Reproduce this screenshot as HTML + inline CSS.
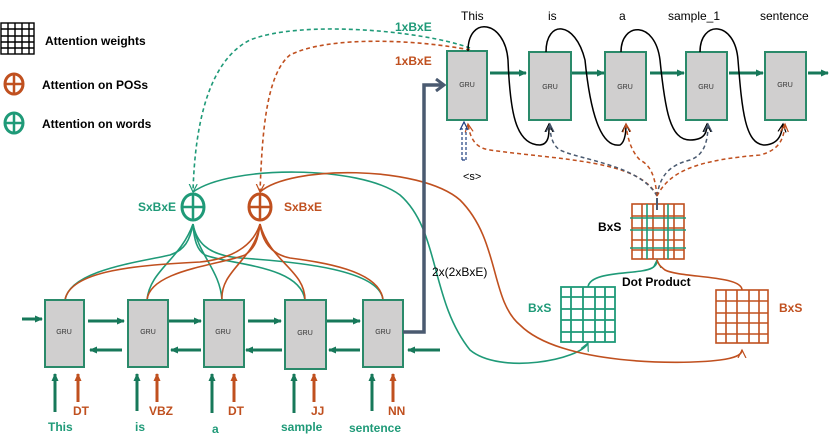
<!DOCTYPE html>
<html><head><meta charset="utf-8"><style>
body{margin:0;background:#fff;}
svg{display:block;font-family:"Liberation Sans",sans-serif;}
.g{fill:#d0cfcf;stroke:#2a8a6a;stroke-width:2}
.gt{font-size:7px;fill:#333;text-anchor:middle}
.gn{stroke:#1f9a78;fill:none;stroke-width:1.6}
.or{stroke:#c0501f;fill:none;stroke-width:1.6}
.bk{stroke:#000;fill:none;stroke-width:1.5}
</style></head><body>
<svg width="830" height="444" viewBox="0 0 830 444">
<defs>
<marker id="ag" markerUnits="userSpaceOnUse" markerWidth="8" markerHeight="8" refX="7" refY="4" orient="auto"><path d="M0,0.5L8,4L0,7.5z" fill="#17785a"/></marker>
<marker id="ao" markerUnits="userSpaceOnUse" markerWidth="8" markerHeight="8" refX="7" refY="4" orient="auto"><path d="M0,0.5L8,4L0,7.5z" fill="#c0501f"/></marker>
<marker id="vo" markerUnits="userSpaceOnUse" markerWidth="10" markerHeight="10" refX="8" refY="5" orient="auto"><path d="M0,1L8,5L0,9" fill="none" stroke="#c0501f" stroke-width="1.2"/></marker>
<marker id="vg" markerUnits="userSpaceOnUse" markerWidth="10" markerHeight="10" refX="8" refY="5" orient="auto"><path d="M0,1L8,5L0,9" fill="none" stroke="#1f9a78" stroke-width="1.2"/></marker>
<marker id="vk" markerUnits="userSpaceOnUse" markerWidth="10" markerHeight="10" refX="8" refY="5" orient="auto"><path d="M0,1L8,5L0,9" fill="none" stroke="#000" stroke-width="1.2"/></marker>
<marker id="vb" markerUnits="userSpaceOnUse" markerWidth="10" markerHeight="10" refX="8" refY="5" orient="auto"><path d="M0,1L8,5L0,9" fill="none" stroke="#4a5a70" stroke-width="1.2"/></marker>
<marker id="as" markerUnits="userSpaceOnUse" markerWidth="12" markerHeight="14" refX="9" refY="7" orient="auto"><path d="M1,1L9,7L1,13" fill="none" stroke="#4a5a70" stroke-width="3"/></marker>
</defs>

<g stroke="#000" stroke-width="1.4" fill="none">
<rect x="1" y="23" width="33" height="31"/>
<path d="M8,23V54M15,23V54M22,23V54M29,23V54M1,29H34M1,36H34M1,42H34M1,48H34"/>
</g>
<g font-size="12" font-weight="bold">
<text x="45" y="45">Attention weights</text>
<text x="42" y="89">Attention on POSs</text>
<text x="42" y="128">Attention on words</text>
</g>
<ellipse cx="14" cy="84" rx="9" ry="10" fill="none" stroke="#c0501f" stroke-width="3"/>
<path d="M5,84H23M14,74V94" stroke="#c0501f" stroke-width="2.5"/>
<ellipse cx="14" cy="123" rx="9" ry="10" fill="none" stroke="#1f9a78" stroke-width="3"/>
<path d="M5,123H23M14,113V133" stroke="#1f9a78" stroke-width="2.5"/>

<path d="M470,48 C420,30 300,20 250,40 C210,60 195,120 193,192" class="gn" stroke-dasharray="4,3" marker-end="url(#vg)"/>
<path d="M470,50 C420,40 330,35 290,55 C265,75 262,140 260,192" class="or" stroke-dasharray="4,3" marker-end="url(#vo)"/>
<text x="395" y="31" font-size="12" font-weight="bold" fill="#1f9a78">1xBxE</text>
<text x="395" y="65" font-size="12" font-weight="bold" fill="#c0501f">1xBxE</text>

<ellipse cx="193" cy="207" rx="11" ry="13" fill="#fff" stroke="#1f9a78" stroke-width="3"/>
<path d="M182,207H204M193,194V220" stroke="#1f9a78" stroke-width="2.5"/>
<ellipse cx="260" cy="207" rx="11" ry="13" fill="#fff" stroke="#c0501f" stroke-width="3"/>
<path d="M249,207H271M260,194V220" stroke="#c0501f" stroke-width="2.5"/>
<text x="138" y="211" font-size="12" font-weight="bold" fill="#1f9a78">SxBxE</text>
<text x="284" y="211" font-size="12" font-weight="bold" fill="#c0501f">SxBxE</text>

<g class="gn">
<path d="M65,300 C70,270 140,262 170,255 C185,250 190,240 193,224"/>
<path d="M147,300 C150,270 180,260 193,224"/>
<path d="M222,300 C220,270 198,255 193,224"/>
<path d="M305,300 C300,265 230,265 205,255 C197,250 194,240 193,224"/>
<path d="M383,300 C380,270 300,262 240,258 C205,255 196,240 193,224"/>
</g>
<g class="or">
<path d="M65,300 C70,270 140,265 200,262 C240,258 255,240 260,224"/>
<path d="M147,300 C150,270 220,265 245,255 C255,248 258,240 260,224"/>
<path d="M222,300 C220,270 255,260 260,224"/>
<path d="M305,300 C305,270 270,262 260,224"/>
<path d="M383,300 C380,270 320,262 290,258 C270,254 262,240 260,224"/>
</g>
<path d="M193,223l-4,3M193,223l4,3M260,223l-4,3M260,223l4,3" stroke="#888" stroke-width="0"/>

<path d="M193,192 C230,165 360,165 400,195 C440,230 430,300 470,350 C500,375 580,360 588,343" class="gn" marker-end="url(#vg)"/>
<path d="M260,192 C290,165 420,165 460,200 C500,240 490,300 520,325 C560,365 680,365 720,360 C735,358 742,355 742,350" class="or" marker-end="url(#vo)"/>

<rect class="g" x="45" y="300" width="39" height="67"/>
<rect class="g" x="128" y="300" width="40" height="67"/>
<rect class="g" x="204" y="300" width="40" height="67"/>
<rect class="g" x="285" y="300" width="41" height="69"/>
<rect class="g" x="363" y="300" width="40" height="67"/>
<text class="gt" x="64" y="334">GRU</text><text class="gt" x="148" y="334">GRU</text><text class="gt" x="223" y="334">GRU</text><text class="gt" x="305" y="335">GRU</text><text class="gt" x="383" y="334">GRU</text>
<g stroke="#17785a" stroke-width="3" marker-end="url(#ag)">
<path d="M22,319H42"/><path d="M88,321H124"/><path d="M169,321H201"/><path d="M248,321H281"/><path d="M327,321H360"/>
<path d="M122,350H90"/><path d="M201,350H171"/><path d="M282,350H246"/><path d="M360,350H329"/><path d="M440,350H408"/>
<path d="M55,412V374"/><path d="M137,411V374"/><path d="M212,413V374"/><path d="M294,413V374"/><path d="M372,411V374"/>
</g>
<g stroke="#c0501f" stroke-width="3" marker-end="url(#ao)">
<path d="M78,402V374"/><path d="M157,402V374"/><path d="M234,402V374"/><path d="M314,402V374"/><path d="M393,402V374"/>
</g>
<g font-size="12" font-weight="bold" fill="#c0501f">
<text x="73" y="415">DT</text><text x="149" y="415">VBZ</text><text x="228" y="415">DT</text><text x="311" y="415">JJ</text><text x="388" y="415">NN</text>
</g>
<g font-size="12" font-weight="bold" fill="#1f9a78">
<text x="48" y="431">This</text><text x="135" y="431">is</text><text x="212" y="433">a</text><text x="281" y="431">sample</text><text x="349" y="432">sentence</text>
</g>

<path d="M403,332H424V85H444" stroke="#4a5a70" stroke-width="3.5" fill="none" marker-end="url(#as)"/>
<text x="432" y="276" font-size="12">2x(2xBxE)</text>

<rect class="g" x="447" y="51" width="40" height="69"/>
<rect class="g" x="529" y="52" width="42" height="68"/>
<rect class="g" x="605" y="52" width="41" height="68"/>
<rect class="g" x="686" y="52" width="41" height="68"/>
<rect class="g" x="765" y="52" width="41" height="68"/>
<text class="gt" x="467" y="87">GRU</text><text class="gt" x="550" y="89">GRU</text><text class="gt" x="625" y="89">GRU</text><text class="gt" x="706" y="89">GRU</text><text class="gt" x="785" y="87">GRU</text>
<g stroke="#17785a" stroke-width="3" marker-end="url(#ag)">
<path d="M490,73H526"/><path d="M572,73H604"/><path d="M650,73H684"/><path d="M729,73H763"/><path d="M808,73H828"/>
</g>
<g font-size="12">
<text x="461" y="20">This</text><text x="548" y="20">is</text><text x="619" y="20">a</text><text x="668" y="20">sample_1</text><text x="760" y="20">sentence</text>
</g>
<g class="bk" marker-end="url(#vk)">
<path d="M468,51 C468,15 505,20 508,60 C510,110 515,145 540,145 C550,144 549,132 549,124"/>
<path d="M546,52 C546,20 575,20 585,60 C590,110 600,148 620,145 C625,142 626,132 626,124"/>
<path d="M621,52 C621,22 655,20 660,60 C665,110 670,140 690,140 C705,140 707,132 707,124"/>
<path d="M700,52 C700,20 735,20 738,60 C742,110 745,145 765,145 C780,144 782,132 783,124"/>
</g>
<g stroke-dasharray="4,3" stroke-width="1.5" fill="none">
<path d="M657,196 C640,160 560,160 490,150 C475,148 470,138 468,124" stroke="#c0501f" marker-end="url(#vo)"/>
<path d="M657,196 C640,165 580,160 560,150 C552,145 550,135 550,124" stroke="#4a5a70" marker-end="url(#vb)"/>
<path d="M657,196 C655,175 650,165 640,160 C630,150 627,135 626,124" stroke="#c0501f" marker-end="url(#vo)"/>
<path d="M657,196 C660,175 670,165 690,160 C705,155 708,140 708,124" stroke="#4a5a70" marker-end="url(#vb)"/>
<path d="M657,196 C670,170 700,160 760,155 C780,150 784,138 785,124" stroke="#c0501f" marker-end="url(#vo)"/>
</g>
<path d="M462,160V128M466,160V128M462,160H466" stroke="#1f3f80" stroke-width="1.2" stroke-dasharray="3,2" fill="none"/>
<path d="M460,130L464,122L468,130" stroke="#1f3f80" fill="none" stroke-width="1.2"/>
<text x="463" y="180" font-size="11">&lt;s&gt;</text>

<g stroke="#c0501f" stroke-width="1.6" fill="none">
<rect x="632" y="204" width="52" height="55"/>
<path d="M642,204V259M653,204V259M664,204V259M674,204V259M632,216H684M632,228H684M632,240H684M632,250H684"/>
</g>
<g stroke="#1f9a78" stroke-width="1.6" fill="none">
<path d="M647,204V259M668,204V259M630,218H686M630,230H686M630,248H686"/>
</g>
<path d="M657,198V210" stroke="#4a5a70" stroke-width="2"/>
<g stroke="#1f9a78" stroke-width="1.8" fill="none">
<rect x="561" y="287" width="54" height="55"/>
<path d="M571,287V342M583,287V342M595,287V342M605,287V342M561,297H615M561,309H615M561,320H615M561,332H615"/>
</g>
<g stroke="#c0501f" stroke-width="1.6" fill="none">
<rect x="716" y="290" width="52" height="53"/>
<path d="M726,290V343M737,290V343M749,290V343M759,290V343M716,301H768M716,313H768M716,323H768M716,334H768"/>
</g>
<path d="M588,287 C590,270 640,275 652,268 C657,265 657,262 657,260" class="gn" marker-end="url(#vg)"/>
<path d="M742,290 C742,275 680,278 665,270 C660,266 658,264 657,260" class="or"/>
<text x="598" y="231" font-size="12" font-weight="bold">BxS</text>
<text x="622" y="286" font-size="12" font-weight="bold">Dot Product</text>
<text x="528" y="312" font-size="12" font-weight="bold" fill="#1f9a78">BxS</text>
<text x="779" y="312" font-size="12" font-weight="bold" fill="#c0501f">BxS</text>
</svg>
</body></html>
